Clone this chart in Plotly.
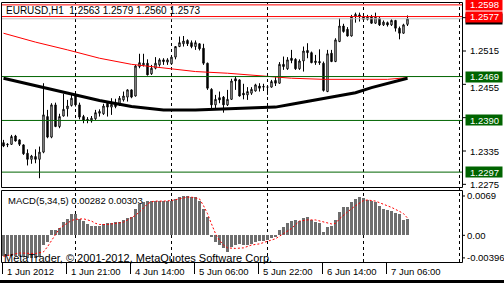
import plotly.graph_objects as go

W, H = 504, 283
FONT = "Liberation Sans, Arial, sans-serif"

# ---------------- data ----------------
bar_index = list(range(102))
opens = [1.2350, 1.2346, 1.2347, 1.2362, 1.2355, 1.2346, 1.2331, 1.2320, 1.2325, 1.2320,
         1.2333, 1.2397, 1.2360, 1.2418, 1.2379, 1.2398, 1.2411, 1.2417, 1.2434, 1.2418,
         1.2397, 1.2392, 1.2389, 1.2393, 1.2403, 1.2402, 1.2421, 1.2414, 1.2420, 1.2418,
         1.2427, 1.2432, 1.2445, 1.2434, 1.2487, 1.2490, 1.2493, 1.2474, 1.2484, 1.2490,
         1.2499, 1.2495, 1.2492, 1.2504, 1.2523, 1.2528, 1.2534, 1.2530, 1.2523, 1.2528,
         1.2520, 1.2493, 1.2446, 1.2418, 1.2431, 1.2432, 1.2418, 1.2428, 1.2465, 1.2463,
         1.2439, 1.2436, 1.2439, 1.2443, 1.2452, 1.2450, 1.2450, 1.2450, 1.2462, 1.2457,
         1.2491, 1.2483, 1.2502, 1.2500, 1.2483, 1.2497, 1.2516, 1.2512, 1.2494, 1.2496,
         1.2493, 1.2442, 1.2511, 1.2496, 1.2532, 1.2560, 1.2554, 1.2542, 1.2577, 1.2580,
         1.2577, 1.2572, 1.2577, 1.2565, 1.2574, 1.2562, 1.2566, 1.2562, 1.2570, 1.2556,
         1.2547, 1.2563]
highs = [1.2355, 1.2349, 1.2364, 1.2364, 1.2356, 1.2347, 1.2338, 1.2328, 1.2338, 1.2343,
         1.2457, 1.2409, 1.2421, 1.2422, 1.2402, 1.2438, 1.2427, 1.2439, 1.2439, 1.2422,
         1.2400, 1.2396, 1.2398, 1.2409, 1.2410, 1.2420, 1.2422, 1.2430, 1.2429, 1.2434,
         1.2442, 1.2446, 1.2446, 1.2490, 1.2510, 1.2510, 1.2500, 1.2490, 1.2504, 1.2502,
         1.2502, 1.2502, 1.2506, 1.2524, 1.2541, 1.2542, 1.2536, 1.2534, 1.2534, 1.2529,
         1.2528, 1.2494, 1.2448, 1.2436, 1.2442, 1.2434, 1.2445, 1.2465, 1.2470, 1.2464,
         1.2456, 1.2450, 1.2450, 1.2456, 1.2457, 1.2456, 1.2452, 1.2463, 1.2468, 1.2495,
         1.2505, 1.2504, 1.2517, 1.2502, 1.2500, 1.2523, 1.2529, 1.2514, 1.2508, 1.2518,
         1.2496, 1.2517, 1.2517, 1.2538, 1.2574, 1.2564, 1.2558, 1.2580, 1.2584, 1.2584,
         1.2580, 1.2580, 1.2580, 1.2584, 1.2576, 1.2570, 1.2568, 1.2572, 1.2571, 1.2559,
         1.2564, 1.2579]
lows = [1.2342, 1.2342, 1.2346, 1.2352, 1.2344, 1.2328, 1.2309, 1.2312, 1.2313, 1.2286,
        1.2331, 1.2358, 1.2358, 1.2378, 1.2376, 1.2397, 1.2397, 1.2415, 1.2415, 1.2392,
        1.2385, 1.2385, 1.2386, 1.2391, 1.2397, 1.2400, 1.2397, 1.2400, 1.2412, 1.2416,
        1.2424, 1.2424, 1.2430, 1.2433, 1.2484, 1.2487, 1.2471, 1.2472, 1.2482, 1.2487,
        1.2490, 1.2490, 1.2490, 1.2500, 1.2522, 1.2523, 1.2524, 1.2520, 1.2517, 1.2516,
        1.2490, 1.2445, 1.2410, 1.2409, 1.2421, 1.2404, 1.2416, 1.2427, 1.2445, 1.2433,
        1.2428, 1.2427, 1.2436, 1.2442, 1.2442, 1.2443, 1.2436, 1.2449, 1.2452, 1.2456,
        1.2481, 1.2481, 1.2493, 1.2481, 1.2481, 1.2478, 1.2502, 1.2493, 1.2490, 1.2490,
        1.2442, 1.2441, 1.2495, 1.2495, 1.2531, 1.2548, 1.2541, 1.2541, 1.2566, 1.2568,
        1.2570, 1.2570, 1.2564, 1.2564, 1.2560, 1.2560, 1.2559, 1.2560, 1.2550, 1.2536,
        1.2546, 1.2560]
closes = [1.2344, 1.2347, 1.2361, 1.2353, 1.2347, 1.2330, 1.2320, 1.2326, 1.2320, 1.2333,
          1.2400, 1.2360, 1.2418, 1.2379, 1.2397, 1.2410, 1.2416, 1.2430, 1.2418, 1.2396,
          1.2390, 1.2390, 1.2394, 1.2404, 1.2406, 1.2416, 1.2414, 1.2419, 1.2415, 1.2430,
          1.2434, 1.2445, 1.2432, 1.2488, 1.2494, 1.2493, 1.2472, 1.2484, 1.2493, 1.2499,
          1.2496, 1.2499, 1.2504, 1.2523, 1.2530, 1.2533, 1.2528, 1.2523, 1.2530, 1.2519,
          1.2493, 1.2448, 1.2418, 1.2428, 1.2427, 1.2418, 1.2428, 1.2461, 1.2461, 1.2434,
          1.2436, 1.2442, 1.2446, 1.2454, 1.2448, 1.2451, 1.2450, 1.2460, 1.2457, 1.2491,
          1.2487, 1.2499, 1.2498, 1.2483, 1.2497, 1.2515, 1.2512, 1.2494, 1.2497, 1.2494,
          1.2444, 1.2510, 1.2496, 1.2535, 1.2560, 1.2550, 1.2542, 1.2577, 1.2581, 1.2577,
          1.2572, 1.2576, 1.2565, 1.2576, 1.2562, 1.2567, 1.2562, 1.2570, 1.2556, 1.2547,
          1.2562, 1.2573]

ma_red_idx = [0, 8, 16, 24, 32, 40, 48, 56, 64, 72, 80, 88, 96, 101]
ma_red = [1.2547, 1.2531, 1.2517, 1.2502, 1.2491, 1.2484, 1.2478, 1.2475, 1.2470,
          1.2466, 1.2464, 1.2464, 1.2464, 1.2467]
ma_black_idx = [0, 8, 16, 24, 32, 40, 48, 56, 64, 68, 72, 76, 80, 84, 88, 92, 96, 101]
ma_black = [1.2466, 1.2453, 1.2439, 1.2426, 1.2415, 1.2409, 1.2409, 1.2411, 1.2412,
            1.2414, 1.2419, 1.2424, 1.2430, 1.2434, 1.2440, 1.2449, 1.2457, 1.2466]

macd_hist = [-0.0037, -0.0037, -0.0036, -0.0036, -0.0037, -0.0038, -0.0039, -0.0039, -0.0039, -0.0038,
             -0.0017, -0.0012, 0.0009, 0.0010, 0.0012, 0.0023, 0.0029, 0.0038, 0.0037, 0.0029,
             0.0025, 0.0020, 0.0017, 0.0016, 0.0017, 0.0019, 0.0021, 0.0021, 0.0023, 0.0023,
             0.0027, 0.0031, 0.0033, 0.0046, 0.0055, 0.0058, 0.0060, 0.0060, 0.0060, 0.0060,
             0.0061, 0.0060, 0.0060, 0.0064, 0.0068, 0.0069, 0.0069, 0.0068, 0.0067, 0.0060,
             0.0046, 0.0032, -0.0002, -0.0012, -0.0017, -0.0023, -0.0029, -0.0020, -0.0017, -0.0015,
             -0.0017, -0.0017, -0.0015, -0.0012, -0.0010, -0.0010, -0.0008, -0.0004, -0.0002, 0.0009,
             0.0015, 0.0021, 0.0026, 0.0027, 0.0026, 0.0031, 0.0033, 0.0027, 0.0023, 0.0021,
             0.0006, 0.0015, 0.0017, 0.0027, 0.0041, 0.0049, 0.0049, 0.0058, 0.0064, 0.0067,
             0.0066, 0.0062, 0.0060, 0.0058, 0.0052, 0.0046, 0.0045, 0.0042, 0.0039, 0.0037,
             0.0027, 0.00282]
signal_idx = [0, 4, 8, 10, 11, 12, 13, 14, 15, 16, 17, 18, 19, 20, 21, 22, 23, 24, 26, 28,
              30, 31, 32, 33, 34, 35, 36, 37, 38, 40, 42, 44, 46, 47, 48, 49, 50, 51, 52, 53,
              54, 55, 56, 57, 58, 60, 62, 64, 66, 68, 70, 72, 74, 76, 78, 80, 82, 83, 84, 86,
              88, 90, 91, 93, 95, 97, 99, 100, 101]
signal = [-0.0037, -0.0031, -0.0032, -0.0029, -0.0020, -0.0009, 0.0003, 0.0012, 0.0017, 0.0021,
          0.0026, 0.0028, 0.0029, 0.0029, 0.0027, 0.0025, 0.0021, 0.0019, 0.0019, 0.0021,
          0.0023, 0.0027, 0.0031, 0.0035, 0.0041, 0.0048, 0.0055, 0.0059, 0.0060, 0.0060,
          0.0061, 0.0064, 0.0067, 0.0067, 0.0066, 0.0064, 0.0052, 0.0038, 0.0020, 0.0003,
          -0.0009, -0.0017, -0.0022, -0.0023, -0.0023, -0.0022, -0.0017, -0.0015, -0.0010, -0.0006,
          0.0003, 0.0012, 0.0025, 0.0027, 0.0027, 0.0023, 0.0020, 0.0021, 0.0029, 0.0041,
          0.0052, 0.0061, 0.0062, 0.0060, 0.0055, 0.0049, 0.0042, 0.0038, 0.00303]

red_levels = [1.2598, 1.2577]
green_levels = [1.2469, 1.2390, 1.2297]
bid_price = 1.2573
price_ticks = [1.2575, 1.2515, 1.2455, 1.2395, 1.2335, 1.2275]
price_tick_labels = ["1.2515", "1.2455", "1.2335", "1.2275"]   # the others hide under level boxes
macd_ticks = [0.0069, 0.0, -0.00396]
macd_tick_text = ["0.0069", "0.00", "-0.00396"]
separator_idx = [18, 42, 66, 90, 114]
time_idx = [0, 16, 32, 48, 64, 80, 96]
time_text = ["1 Jun 2012", "1 Jun 21:00", "4 Jun 14:00", "5 Jun 06:00",
             "5 Jun 22:00", "6 Jun 14:00", "7 Jun 06:00"]
title_text = "EURUSD,H1  1.2563 1.2579 1.2560 1.2573"
macd_title = "MACD(5,34,5) 0.00282 0.00303"
copyright_text = "MetaTrader, © 2001-2012, MetaQuotes Software Corp."

# ---------------- layout helpers ----------------
def pxx(px):
    return px / W

def pxy(py):
    return 1 - py / H

X_LEFT, X_RIGHT = 2, 462
MAIN_TOP, MAIN_BOT = 3, 187
MACD_TOP, MACD_BOT = 190, 262
BAR_PX = 4
X0 = -0.375
x_range = [X0, X0 + (X_RIGHT - X_LEFT) / BAR_PX]
price_range = [1.22702, 1.26014]
macd_range = [-0.00468, 0.00795]

fig = go.Figure()

fig.add_trace(go.Candlestick(
    x=bar_index, open=opens, high=highs, low=lows, close=closes,
    xaxis="x", yaxis="y",
    increasing=dict(fillcolor="white", line=dict(color="black", width=1)),
    decreasing=dict(fillcolor="black", line=dict(color="black", width=1)),
    whiskerwidth=0, showlegend=False, hoverinfo="skip"))

fig.add_trace(go.Scatter(x=ma_red_idx, y=ma_red, mode="lines",
                         line=dict(color="#ff0000", width=1), xaxis="x", yaxis="y",
                         showlegend=False, hoverinfo="skip"))
fig.add_trace(go.Scatter(x=ma_black_idx, y=ma_black, mode="lines",
                         line=dict(color="black", width=3), xaxis="x", yaxis="y",
                         showlegend=False, hoverinfo="skip"))

fig.add_trace(go.Bar(x=bar_index, y=macd_hist, width=0.75, marker=dict(color="#6e6e6e", line=dict(width=0)),
                     xaxis="x2", yaxis="y2", showlegend=False, hoverinfo="skip"))
fig.add_trace(go.Scatter(x=signal_idx, y=signal, mode="lines",
                         line=dict(color="#ff0000", width=1, dash="2px,2px"),
                         xaxis="x2", yaxis="y2", showlegend=False, hoverinfo="skip"))

shapes = []
# day separators (both panels)
for s in separator_idx:
    shapes.append(dict(type="line", xref="x", yref="paper", x0=s, x1=s,
                       y0=pxy(MACD_BOT), y1=pxy(MAIN_TOP),
                       line=dict(color="black", width=1, dash="3px,3px"), layer="below"))
# horizontal levels
shapes.append(dict(type="line", xref="paper", yref="y", x0=pxx(X_LEFT), x1=pxx(X_RIGHT),
                   y0=bid_price, y1=bid_price, line=dict(color="#c0c0c0", width=1)))
for lv in red_levels:
    shapes.append(dict(type="line", xref="paper", yref="y", x0=pxx(X_LEFT), x1=pxx(X_RIGHT),
                       y0=lv, y1=lv, line=dict(color="#ff0000", width=1)))
for lv in green_levels:
    shapes.append(dict(type="line", xref="paper", yref="y", x0=pxx(X_LEFT), x1=pxx(X_RIGHT),
                       y0=lv, y1=lv, line=dict(color="#006400", width=1)))
# panel frames
for top, bot in [(MAIN_TOP - 0.5, MAIN_BOT + 0.5), (MACD_TOP + 0.5, MACD_BOT + 0.5)]:
    shapes.append(dict(type="rect", xref="paper", yref="paper",
                       x0=pxx(1.5), x1=pxx(462.5), y0=pxy(bot), y1=pxy(top),
                       line=dict(color="black", width=1), fillcolor="rgba(0,0,0,0)"))
# right axis ticks
for t in price_ticks:
    shapes.append(dict(type="line", xref="paper", yref="y", x0=pxx(462.5), x1=pxx(466),
                       y0=t, y1=t, line=dict(color="black", width=1)))
for t in macd_ticks:
    shapes.append(dict(type="line", xref="paper", yref="y2", x0=pxx(462.5), x1=pxx(465),
                       y0=t, y1=t, line=dict(color="black", width=1)))
# time ticks
for t in time_idx:
    shapes.append(dict(type="line", xref="x2", yref="paper", x0=t - 0.25, x1=t - 0.25,
                       y0=pxy(274), y1=pxy(MACD_BOT + 0.5), line=dict(color="black", width=1)))
# bottom strip
shapes.append(dict(type="rect", xref="paper", yref="paper", x0=0, x1=1, y0=0, y1=pxy(280),
                   line=dict(width=0), fillcolor="black"))

ann = []
def text_ann(txt, x, y, yref="paper", size=9.5, color="black", xref="paper", xanchor="left", yshift=0):
    ann.append(dict(text=txt, x=x, y=y, xref=xref, yref=yref, xanchor=xanchor, yanchor="middle",
                    showarrow=False, font=dict(family=FONT, size=size, color=color), borderpad=0,
                    yshift=yshift))

for lab in price_tick_labels:
    # the 1.2455 label sits just under the 1.2469 level box: nudge it clear
    text_ann(lab, pxx(469), float(lab), yref="y", yshift=-3 if lab == "1.2455" else 0)
for t, tt in zip(macd_ticks, macd_tick_text):
    text_ann(tt, pxx(466), t, yref="y2")

def box_label(val, bg, txt=None):
    ann.append(dict(text=" ", x=pxx(465), y=val, xref="paper", yref="y", xanchor="left",
                    yanchor="middle", showarrow=False, bgcolor=bg, width=36, height=10,
                    borderpad=0, font=dict(family=FONT, size=9.5, color="white")))
    if txt:
        text_ann(txt, pxx(469), val, yref="y", color="white")

box_label(bid_price, "black")          # current-price label, hidden under the red box
box_label(red_levels[0], "#ff0000", "1.2598")
box_label(red_levels[1], "#ff0000", "1.2577")
for lv in green_levels:
    box_label(lv, "#006400", f"{lv:.4f}")

text_ann(title_text, pxx(5), pxy(10.3), size=10)
text_ann(macd_title, pxx(7), pxy(200.3), size=9.5)
text_ann(copyright_text, pxx(3), pxy(257.8), size=11)
for t, tt in zip(time_idx, time_text):
    ann.append(dict(text=tt, x=t, y=pxy(271), xref="x2", yref="paper", xanchor="left",
                    yanchor="middle", xshift=2, showarrow=False,
                    font=dict(family=FONT, size=9.5, color="black"), borderpad=0))

axis_common = dict(showgrid=False, zeroline=False, showticklabels=False, showline=False,
                   ticks="", fixedrange=True)
fig.update_layout(
    width=W, height=H, margin=dict(l=0, r=0, t=0, b=0),
    paper_bgcolor="white", plot_bgcolor="white",
    showlegend=False, boxgap=0.5, bargap=0,
    xaxis=dict(domain=[pxx(X_LEFT), pxx(X_RIGHT)], range=x_range, anchor="y",
               rangeslider=dict(visible=False), **axis_common),
    yaxis=dict(domain=[pxy(MAIN_BOT), pxy(MAIN_TOP)], range=price_range, anchor="x", **axis_common),
    xaxis2=dict(domain=[pxx(X_LEFT), pxx(X_RIGHT)], range=x_range, anchor="y2", matches="x", **axis_common),
    yaxis2=dict(domain=[pxy(MACD_BOT), pxy(MACD_TOP)], range=macd_range, anchor="x2", **axis_common),
    shapes=shapes, annotations=ann,
)

fig.write_html("out.html")
